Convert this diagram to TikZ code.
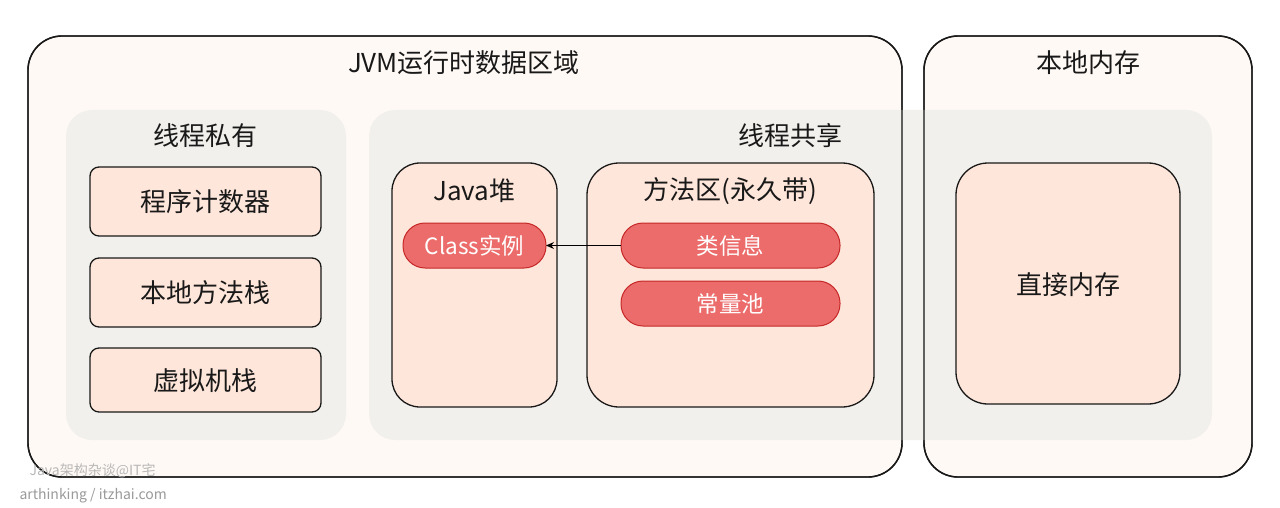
\documentclass[tikz,border=0pt]{standalone}
\usepackage{fontspec}
\setmainfont{Noto Sans CJK SC}
\usetikzlibrary{arrows.meta}
\definecolor{outerfill}{HTML}{FFF9F5}
\definecolor{grayfill}{HTML}{F1F0EC}
\definecolor{boxfill}{HTML}{FFE6DA}
\definecolor{pillfill}{HTML}{EB6C6B}
\definecolor{pillline}{HTML}{C62828}
\definecolor{wm}{HTML}{9A9A9A}
\tikzset{
  outerbox/.style={draw=black!90, line width=1.4pt, fill=outerfill, rounded corners=34pt},
  outerline/.style={draw=black!90, line width=1.4pt, rounded corners=34pt},
  graybox/.style={fill=grayfill, rounded corners=26pt},
  smallbox/.style={draw=black!90, line width=1.3pt, fill=boxfill, rounded corners=9pt},
  bigbox/.style={draw=black!90, line width=1.3pt, fill=boxfill, rounded corners=28pt},
  pill/.style={draw=pillline, line width=1pt, fill=pillfill, rounded corners=22pt},
  ttl/.style={font=\fontsize{26}{29}\selectfont, text=black!90},
  pilltxt/.style={font=\fontsize{22.5}{25}\selectfont, text=white},
  wmtxt/.style={font=\fontsize{14}{16}\selectfont, text=wm, anchor=west}
}
\begin{document}
\begin{tikzpicture}[x=1pt,y=-1pt]
\useasboundingbox (0,0) rectangle (1280,508);
\fill[white] (0,0) rectangle (1280,508);
% outer boxes
\draw[outerbox] (28,36) rectangle (902,477);
\draw[outerbox] (924,36) rectangle (1252,477);
% gray groups
\fill[graybox] (66,110) rectangle (346,440);
\fill[graybox, fill opacity=0.92] (369,110) rectangle (1212,440);
% redraw outer borders
\draw[outerline] (28,36) rectangle (902,477);
\draw[outerline] (924,36) rectangle (1252,477);
% titles
\node[ttl] (jvmt) at (464,63) {JVM运行时数据区域};
\node[ttl] (nmt) at (1088,63) {本地内存};
\node[ttl] (privt) at (205,136) {线程私有};
\node[ttl] (sharet) at (790,136) {线程共享};
% private boxes
\draw[smallbox] (90,167) rectangle (321,236);
\node[ttl] (pc) at (205.5,202) {程序计数器};
\draw[smallbox] (90,258) rectangle (321,327);
\node[ttl] (nms) at (205.5,293) {本地方法栈};
\draw[smallbox] (90,348) rectangle (321,412);
\node[ttl] (vms) at (205.5,381) {虚拟机栈};
% heap & method area
\draw[bigbox] (392,163) rectangle (557,407);
\node[ttl] (heapt) at (474.5,191) {Java堆};
\draw[bigbox, rounded corners=32pt] (587,163) rectangle (874,407);
\node[ttl] (mat) at (730.5,191) {方法区(永久带)};
% direct memory
\draw[bigbox, rounded corners=32pt] (956,163) rectangle (1180,404);
\node[ttl] (dm) at (1068,285) {直接内存};
% pills
\draw[pill] (403,223) rectangle (546,268);
\node[pilltxt] (cls) at (474.5,245.5) {Class实例};
\draw[pill] (621,223) rectangle (840,268);
\node[pilltxt] (lxx) at (730.5,245.5) {类信息};
\draw[pill] (621,281) rectangle (840,326);
\node[pilltxt] (clc) at (730.5,303.5) {常量池};
\coordinate (clsE) at (546,245.5);
\coordinate (lxxW) at (621,245.5);
\draw[-{Stealth[length=8pt,width=7pt]}, line width=0.9pt, black] (lxxW) -- (clsE);
% watermarks
\node[wmtxt, text=wm!70] (wm1) at (26,471) {Java架构杂谈@IT宅};
\node[wmtxt] (wm2) at (16,496) {arthinking / itzhai.com};
\end{tikzpicture}
\end{document}
